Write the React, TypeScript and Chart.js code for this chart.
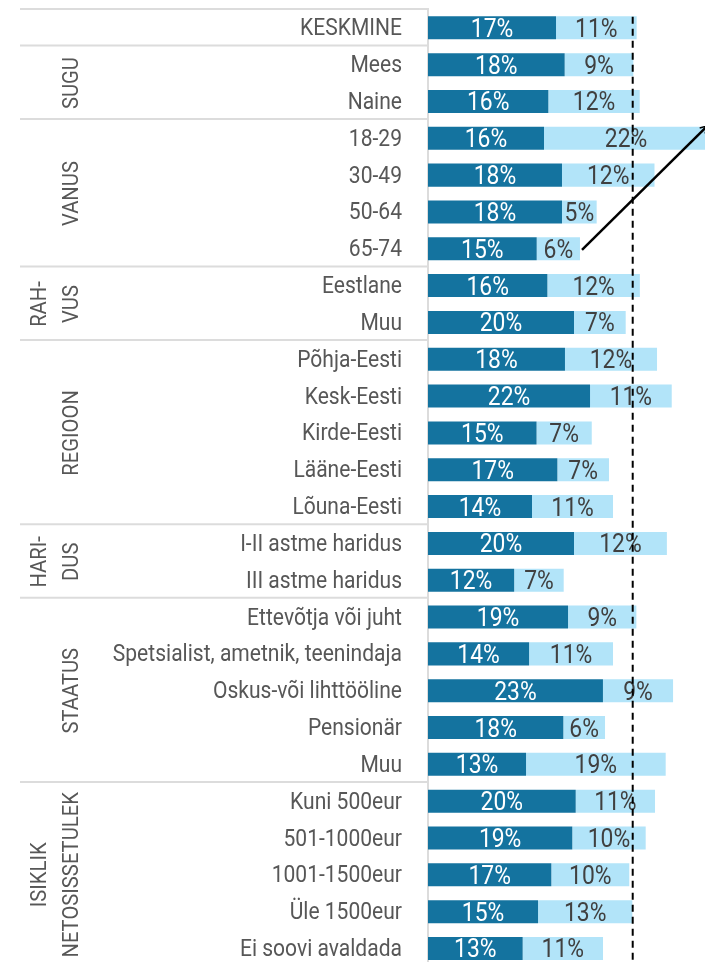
import React, { useEffect, useRef } from 'react';
import { Chart, registerables } from 'chart.js';

Chart.register(...registerables);

const categories = [
  'KESKMINE', 'Mees', 'Naine', '18-29', '30-49', '50-64', '65-74', 'Eestlane', 'Muu',
  'Põhja-Eesti', 'Kesk-Eesti', 'Kirde-Eesti', 'Lääne-Eesti', 'Lõuna-Eesti',
  'I-II astme haridus', 'III astme haridus', 'Ettevõtja või juht',
  'Spetsialist, ametnik, teenindaja', 'Oskus-või lihttööline', 'Pensionär', 'Muu',
  'Kuni 500eur', '501-1000eur', '1001-1500eur', 'Üle 1500eur', 'Ei soovi avaldada',
];

const darkValues = [
  17.16, 18.32, 16.13, 15.55, 17.96, 17.96, 14.57, 16.0, 19.57, 18.36, 21.72, 14.55, 17.34,
  13.94, 19.57, 11.55, 18.77, 13.55, 23.45, 18.14, 13.14, 19.8, 19.34, 16.53, 14.75, 12.69,
];

const lightValues = [
  10.81, 9.2, 12.25, 22.0, 12.4, 4.65, 5.8, 12.4, 6.93, 12.34, 10.95, 7.4, 6.92,
  10.86, 12.45, 6.64, 9.16, 11.25, 9.4, 5.59, 18.72, 10.63, 9.84, 10.45, 12.64, 10.77,
];

const groupNames = [['SUGU'], ['VANUS'], ['RAH-', 'VUS'], ['REGIOON'], ['HARI-', 'DUS'], ['STAATUS'], ['ISIKLIK', 'NETOSISSETULEK']];
const groupStarts = [1, 3, 7, 9, 14, 16, 21];
const groupEnds = [2, 6, 8, 13, 15, 20, 25];

const X_MAX = 37.13;
const AVERAGE_LINE = 27.44;
const ARROW_FROM = { x: 20.64, y: 6.03 };
const ARROW_TO = { x: 37.45, y: 2.66 };

const FONT = 'Roboto, "Noto Sans", sans-serif';
const DARK = '#14739f';
const LIGHT = '#b2e4f9';
const GRID = '#dcdcdc';
const LABEL_GRAY = '#575757';

function squeezedText(ctx: CanvasRenderingContext2D, text: string, x: number, y: number, align: 'left' | 'right' | 'center', squeeze: number) {
  ctx.save();
  ctx.translate(x, y);
  ctx.scale(squeeze, 1);
  ctx.textAlign = align;
  ctx.fillText(text, 0, 0);
  ctx.restore();
}

export default function App() {
  const ref = useRef<HTMLCanvasElement | null>(null);

  useEffect(() => {
    if (!ref.current) return;

    const decorPlugin = {
      id: 'decor',
      beforeDatasetsDraw(chart: any) {
        const ctx = chart.ctx as CanvasRenderingContext2D;
        const y = chart.scales.y;
        const top = chart.chartArea.top;
        const left = chart.chartArea.left;
        const half = (y.getPixelForValue(1) - y.getPixelForValue(0)) / 2;
        ctx.save();
        // separators
        ctx.strokeStyle = GRID;
        ctx.lineWidth = 2;
        const bounds = [-1, 0, ...groupEnds.slice(0, -1)];
        bounds.forEach((b) => {
          const py = b < 0 ? top - 0.5 : y.getPixelForValue(b) + half - 0.8;
          ctx.beginPath();
          ctx.moveTo(20, py);
          ctx.lineTo(left - 1, py);
          ctx.stroke();
        });
        // category labels
        ctx.fillStyle = LABEL_GRAY;
        ctx.font = `23px ${FONT}`;
        ctx.textBaseline = 'alphabetic';
        (chart.data.labels as string[]).forEach((lab, i) => {
          squeezedText(ctx, lab, left - 26, y.getPixelForValue(i) + 7.5, 'right', 0.915);
        });
        // group labels
        ctx.font = `22px ${FONT}`;
        groupNames.forEach((lines, gi) => {
          const cy = (y.getPixelForValue(groupStarts[gi]) + y.getPixelForValue(groupEnds[gi])) / 2;
          ctx.save();
          ctx.translate(78, cy);
          ctx.rotate(-Math.PI / 2);
          lines.forEach((ln, li) => {
            squeezedText(ctx, ln, 0, (li - (lines.length - 1)) * 32, 'center', 0.92);
          });
          ctx.restore();
        });
        ctx.restore();
      },
      afterDatasetsDraw(chart: any) {
        const ctx = chart.ctx as CanvasRenderingContext2D;
        const x = chart.scales.x;
        const y = chart.scales.y;
        ctx.save();
        ctx.font = `26px ${FONT}`;
        ctx.textBaseline = 'alphabetic';
        chart.data.datasets.forEach((ds: any, di: number) => {
          const meta = chart.getDatasetMeta(di);
          meta.data.forEach((el: any, i: number) => {
            const cx = (el.x + el.base) / 2;
            ctx.fillStyle = di === 0 ? '#ffffff' : '#404040';
            squeezedText(ctx, Math.round(ds.data[i]) + '%', cx, el.y + 9, 'center', 0.88);
          });
        });
        // average dashed line
        const ax = x.getPixelForValue(AVERAGE_LINE);
        const half = (y.getPixelForValue(1) - y.getPixelForValue(0)) / 2;
        ctx.strokeStyle = '#000000';
        ctx.lineWidth = 2;
        ctx.setLineDash([7, 5]);
        ctx.beginPath();
        ctx.moveTo(ax, y.getPixelForValue(0) - half * 0.6);
        ctx.lineTo(ax, chart.chartArea.bottom);
        ctx.stroke();
        ctx.setLineDash([]);
        // diagonal arrow line
        const x1 = x.getPixelForValue(ARROW_FROM.x);
        const y1 = y.getPixelForValue(ARROW_FROM.y);
        const x2 = x.getPixelForValue(ARROW_TO.x);
        const y2 = y.getPixelForValue(ARROW_TO.y);
        ctx.lineWidth = 2.5;
        ctx.beginPath();
        ctx.moveTo(x1, y1);
        ctx.lineTo(x2, y2);
        ctx.stroke();
        const ang = Math.atan2(y2 - y1, x2 - x1);
        ctx.lineWidth = 1.5;
        ctx.beginPath();
        ctx.moveTo(x2 - 8 * Math.cos(ang - 0.5), y2 - 8 * Math.sin(ang - 0.5));
        ctx.lineTo(x2, y2);
        ctx.lineTo(x2 - 8 * Math.cos(ang + 0.5), y2 - 8 * Math.sin(ang + 0.5));
        ctx.stroke();
        ctx.restore();
      },
    };

    const chart = new Chart(ref.current, {
      type: 'bar',
      data: {
        labels: categories,
        datasets: [
          { label: 'A', data: darkValues, backgroundColor: DARK, barPercentage: 0.625, categoryPercentage: 1 },
          { label: 'B', data: lightValues, backgroundColor: LIGHT, barPercentage: 0.625, categoryPercentage: 1 },
        ],
      },
      options: {
        indexAxis: 'y',
        responsive: false,
        animation: false,
        layout: { padding: { top: 9.4, bottom: 3.1, left: 0, right: 0 } },
        plugins: { legend: { display: false }, tooltip: { enabled: false } },
        scales: {
          x: { stacked: true, min: 0, max: X_MAX, display: false },
          y: {
            stacked: true,
            grid: { display: false, drawTicks: false },
            border: { display: true, color: GRID, width: 2 },
            ticks: { display: false, padding: 0 },
            afterFit(scale: any) {
              scale.width = 428;
              scale.paddingTop = 0;
              scale.paddingBottom = 0;
            },
          },
        },
      },
      plugins: [decorPlugin],
    });
    return () => chart.destroy();
  }, []);

  return (
    <div style={{ position: 'fixed', left: 0, top: 0, width: 705, height: 970 }}>
      <canvas ref={ref} width={705} height={970} style={{ width: 705, height: 970 }} />
    </div>
  );
}
